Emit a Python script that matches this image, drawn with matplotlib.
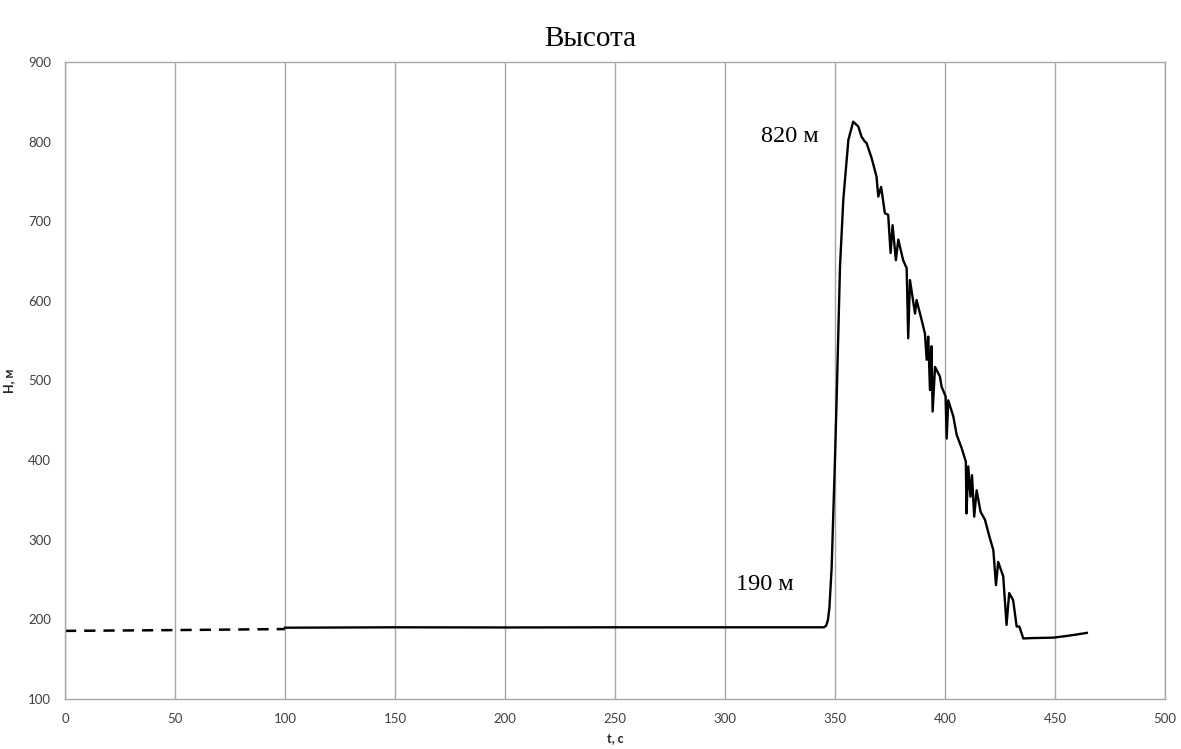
import matplotlib
matplotlib.use("Agg")
import matplotlib.pyplot as plt

# ---- data ----
dash_t = [0, 50, 100]
dash_h = [185.5, 186.5, 187.8]

solid_t = [100, 150, 200, 250, 300, 340, 345.0, 346.0, 346.8, 347.5, 348.5, 350, 350.8, 352.3,
           353.8, 356.1, 358.3, 360.6, 362.1, 363.6, 364.4, 366.7, 368.9, 369.7,
           371, 372.7, 374.2, 375.3, 376.2, 377.7, 378.8, 381, 382.6, 383.3, 384.1,
           386.4, 387.1, 389.4, 390.9, 391.7, 392.4, 393.2, 393.9, 394.4, 395.5,
           397.7, 398.5, 400.3, 400.8, 401.5, 403.8, 405.3, 407.6, 409.5, 409.8,
           410.6, 411.6, 412.3, 413.3, 414.4, 416.2, 418.2, 420.2, 422, 423.2,
           424.2, 426.5, 428, 429.2, 431, 432.6, 433.8, 434.9, 435.6, 440, 449.2,
           455, 460, 464.5]
solid_h = [189.5, 190, 189.8, 190, 190, 190, 190, 192, 199, 215, 265, 400, 480, 643,
           727, 802, 825, 819, 806, 800, 798, 779, 756, 731,
           743, 710, 708, 660, 695, 651, 677, 651, 641, 553, 626,
           584, 601, 576, 559, 526, 555, 488, 543, 461, 517,
           505, 492, 480, 427, 475, 455, 432, 415, 398, 333,
           392, 354, 381, 329, 362, 335, 325, 304, 287, 243,
           272, 254, 193, 233, 224, 191, 191, 182, 176, 176.5, 177,
           179, 181, 183]

x_ticks = list(range(0, 501, 50))
y_ticks = list(range(100, 901, 100))

title = "Высота"
x_label = "t, с"
y_label = "H, м"
annotations = [("820 м", 329.5, 806), ("190 м", 318, 244)]

# ---- plot ----
fig = plt.figure(figsize=(11.81, 7.49), dpi=100)
ax = fig.add_axes([0.0550, 0.0668, 0.9314, 0.8505])

ax.plot(dash_t, dash_h, color="black", lw=1.8, dashes=(4.5, 3.2), solid_capstyle="butt")
ax.plot(solid_t, solid_h, color="black", lw=1.7, solid_joinstyle="round")

ax.set_xlim(0, 500)
ax.set_ylim(100, 900)
ax.set_xticks(x_ticks)
ax.set_yticks(y_ticks)
ax.grid(axis="x", color="#a6a6a6", lw=1.0)
ax.grid(axis="y", visible=False)
ax.set_axisbelow(True)
for s in ax.spines.values():
    s.set_color("#a6a6a6")
    s.set_linewidth(1.0)
ax.tick_params(length=0, labelsize=9.5, labelcolor="#404040", pad=10)
for lab in ax.get_xticklabels() + ax.get_yticklabels():
    lab.set_family("Lato")

ax.set_xlabel(x_label, fontsize=9, fontweight="bold", family="Lato", labelpad=5, color="#262626")
ax.set_ylabel(y_label, fontsize=9, fontweight="bold", family="Lato", labelpad=9, color="#262626")

fig.suptitle(title, x=0.5, y=0.965, fontsize=21, family="Liberation Serif")

for txt, tx, ty in annotations:
    ax.text(tx, ty, txt, fontsize=17.5, family="Liberation Serif", ha="center", va="center")

fig.savefig("out.png", dpi=100)
